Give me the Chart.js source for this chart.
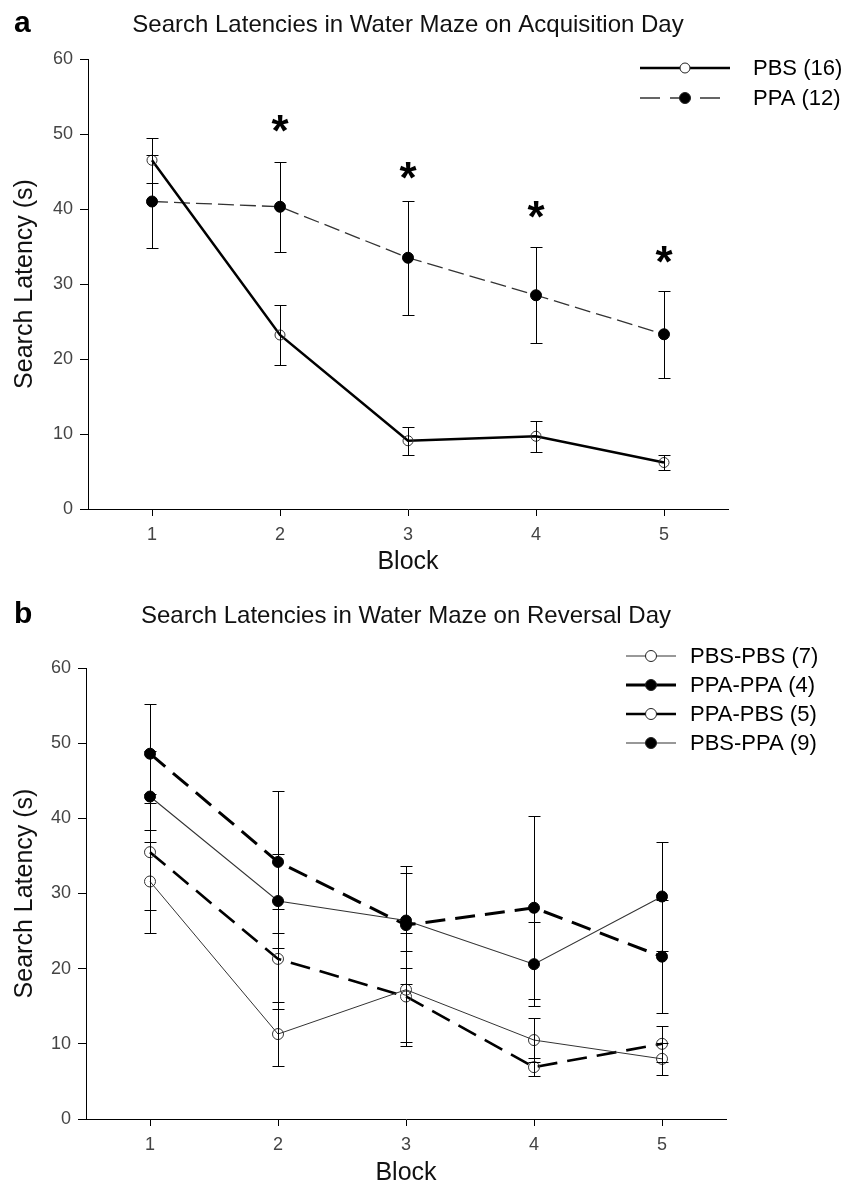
<!DOCTYPE html>
<html>
<head>
<meta charset="utf-8">
<script src="https://cdn.jsdelivr.net/npm/chart.js@4.4.1/dist/chart.umd.min.js"></script>
<style>
  html, body { margin: 0; padding: 0; background: #fff; }
  #wrap { position: relative; width: 856px; height: 1184px; }
  canvas { position: absolute; left: 0; }
</style>
</head>
<body>
<div id="wrap">
  <canvas id="chartA" width="856" height="590" style="top:0"></canvas>
  <canvas id="chartB" width="856" height="594" style="top:590px"></canvas>
</div>
<script>
// x categories (block numbers)
const blocks = ['1', '2', '3', '4', '5'];

// panel a: acquisition day, mean +/- SEM
const pbsMean = [46.5, 23.2, 9.1, 9.7, 6.2];
const pbsErr  = [3.0, 4.0, 1.9, 2.1, 1.0];
const ppaMean = [41.0, 40.3, 33.5, 28.5, 23.3];
const ppaErr  = [6.2, 6.0, 7.6, 6.4, 5.8];
const starVals = [null, 51.4, 45.2, 39.9, 33.9];

// panel b: reversal day
const pbsPbsMean = [31.6, 11.3, 17.2, 10.5, 8.0];
const pbsPbsErr  = [6.9, 4.2, 7.5, 2.9, 2.1];
const ppaPpaMean = [48.6, 34.2, 25.8, 28.1, 21.6];
const ppaPpaErr  = [6.6, 9.4, 7.9, 12.2, 7.5];
const ppaPbsMean = [35.5, 21.3, 16.3, 6.9, 10.0];
const ppaPbsErr  = [7.7, 6.6, 6.0, 1.2, 2.4];
const pbsPpaMean = [42.9, 29.0, 26.4, 20.6, 29.6];
const pbsPpaErr  = [6.1, 6.2, 6.3, 5.6, 7.3];

const FONT = '"Liberation Sans", Arial, Helvetica, sans-serif';

// error bars, stars, panel title, letter and legend
const decor = {
  id: 'decor',
  afterDatasetsDraw(chart, args, opts) {
    const { ctx, chartArea, scales: { x, y } } = chart;
    ctx.save();

    chart.data.datasets.forEach((ds, i) => {
      if (!ds.errors) return;
      const meta = chart.getDatasetMeta(i);
      ctx.strokeStyle = '#000';
      ctx.lineWidth = 1;
      ctx.setLineDash([]);
      meta.data.forEach((pt, j) => {
        const v = ds.data[j], e = ds.errors[j];
        if (v == null || e == null) return;
        const px = Math.round(pt.x) + 0.5;
        const top = Math.round(y.getPixelForValue(v + e)) + 0.5;
        const bot = Math.round(y.getPixelForValue(v - e)) + 0.5;
        ctx.beginPath();
        ctx.moveTo(px, top); ctx.lineTo(px, bot);
        ctx.moveTo(px - opts.cap, top); ctx.lineTo(px + opts.cap, top);
        ctx.moveTo(px - opts.cap, bot); ctx.lineTo(px + opts.cap, bot);
        ctx.stroke();
      });
    });

    if (opts.stars) {
      ctx.fillStyle = '#000';
      ctx.font = 'bold 44px ' + FONT;
      ctx.textAlign = 'center';
      ctx.textBaseline = 'alphabetic';
      const m = ctx.measureText('*');
      const shift = (m.actualBoundingBoxAscent - m.actualBoundingBoxDescent) / 2;
      opts.stars.forEach((v, j) => {
        if (v == null) return;
        ctx.fillText('*', x.getPixelForValue(j), y.getPixelForValue(v) + shift);
      });
    }

    // panel title and letter
    ctx.fillStyle = '#111';
    ctx.font = '24px ' + FONT;
    ctx.textAlign = 'center';
    ctx.fillText(opts.title, (chartArea.left + chartArea.right) / 2, opts.titleY);
    ctx.fillStyle = '#000';
    ctx.font = 'bold 30px ' + FONT;
    ctx.textAlign = 'left';
    ctx.fillText(opts.letter, 14, opts.titleY);

    // legend
    const lg = opts.legend;
    chart.data.datasets.forEach((ds, i) => {
      if (!ds.label) return;
      const ly = lg.y0 + i * lg.rowH;
      ctx.strokeStyle = ds.borderColor;
      ctx.lineWidth = ds.legendWidth || ds.borderWidth;
      ctx.setLineDash(ds.legendDash || []);
      ctx.beginPath();
      ctx.moveTo(lg.x0, ly); ctx.lineTo(lg.x1, ly);
      ctx.stroke();
      ctx.setLineDash([]);
      ctx.beginPath();
      ctx.arc((lg.x0 + lg.x1) / 2, ly, ds.pointRadius, 0, Math.PI * 2);
      ctx.fillStyle = ds.legendFill;
      ctx.fill();
      ctx.lineWidth = 1;
      ctx.strokeStyle = '#222';
      ctx.stroke();
      ctx.fillStyle = '#000';
      ctx.font = '22px ' + FONT;
      ctx.textAlign = 'left';
      ctx.textBaseline = 'middle';
      ctx.fillText(ds.label, lg.textX, ly + 1);
      ctx.textBaseline = 'alphabetic';
    });
    ctx.restore();
  }
};

function axes(yWidth, xHeight, xTitlePad, xTitleLH) {
  return {
    x: {
      type: 'category',
      offset: true,
      afterFit: s => { s.height = xHeight; },
      grid: { offset: false, drawOnChartArea: false, tickLength: 7, color: '#000' },
      border: { color: '#000', width: 1 },
      ticks: { padding: 8, color: '#444', font: { size: 18, family: FONT } },
      title: { display: true, text: 'Block', color: '#111',
               font: { size: 25, family: FONT, lineHeight: xTitleLH },
               padding: { top: 0, bottom: xTitlePad } }
    },
    y: {
      min: 0, max: 60,
      afterFit: s => { s.width = yWidth; },
      grid: { drawOnChartArea: false, tickLength: 8, color: '#000' },
      border: { color: '#000', width: 1 },
      ticks: { stepSize: 10, padding: 7, color: '#444', font: { size: 18, family: FONT } },
      title: { display: true, text: 'Search Latency (s)', color: '#111',
               font: { size: 25, family: FONT, lineHeight: 1.2 },
               padding: { top: 10, bottom: 0 } }
    }
  };
}

new Chart(document.getElementById('chartA'), {
  type: 'line',
  data: {
    labels: blocks,
    datasets: [
      { label: 'PBS (16)', data: pbsMean, errors: pbsErr,
        borderColor: '#000', borderWidth: 2.5, tension: 0,
        pointRadius: 5, pointBorderWidth: 1, pointBorderColor: '#333',
        pointBackgroundColor: 'rgba(255,255,255,0)', legendFill: '#fff' },
      { label: 'PPA (12)', data: ppaMean, errors: ppaErr,
        borderColor: '#333', borderWidth: 1.3, borderDash: [16, 6], tension: 0,
        legendDash: [20, 10],
        pointRadius: 5.5, pointBorderWidth: 1, pointBorderColor: '#000',
        pointBackgroundColor: '#000', legendFill: '#000' }
    ]
  },
  options: {
    responsive: false,
    animation: false,
    devicePixelRatio: 1,
    layout: { padding: { left: 0, right: 128, top: 59, bottom: 0 } },
    scales: axes(88, 81, 15, 1),
    plugins: {
      legend: { display: false },
      tooltip: { enabled: false },
      decor: {
        cap: 6, stars: starVals,
        title: 'Search Latencies in Water Maze on Acquisition Day', titleY: 32, letter: 'a',
        legend: { x0: 640, x1: 730, textX: 753, y0: 68, rowH: 30 }
      }
    }
  },
  plugins: [decor]
});

new Chart(document.getElementById('chartB'), {
  type: 'line',
  data: {
    labels: blocks,
    datasets: [
      { label: 'PBS-PBS (7)', data: pbsPbsMean, errors: pbsPbsErr,
        borderColor: '#333', borderWidth: 1, tension: 0,
        pointRadius: 5.5, pointBorderWidth: 1, pointBorderColor: '#333',
        pointBackgroundColor: 'rgba(255,255,255,0)', legendFill: '#fff' },
      { label: 'PPA-PPA (4)', data: ppaPpaMean, errors: ppaPpaErr,
        borderColor: '#000', borderWidth: 3, borderDash: [20, 10], tension: 0,
        pointRadius: 5.5, pointBorderWidth: 1, pointBorderColor: '#000',
        pointBackgroundColor: '#000', legendFill: '#000' },
      { label: 'PPA-PBS (5)', data: ppaPbsMean, errors: ppaPbsErr,
        borderColor: '#000', borderWidth: 2.6, borderDash: [20, 10], tension: 0,
        pointRadius: 5.5, pointBorderWidth: 1, pointBorderColor: '#333',
        pointBackgroundColor: 'rgba(255,255,255,0)', legendFill: '#fff' },
      { label: 'PBS-PPA (9)', data: pbsPpaMean, errors: pbsPpaErr,
        borderColor: '#333', borderWidth: 1.1, tension: 0,
        pointRadius: 5.5, pointBorderWidth: 1, pointBorderColor: '#000',
        pointBackgroundColor: '#000', legendFill: '#000' }
    ]
  },
  options: {
    responsive: false,
    animation: false,
    devicePixelRatio: 1,
    layout: { padding: { left: 0, right: 130, top: 78, bottom: 0 } },
    scales: axes(86, 65, 0, 0.9),
    plugins: {
      legend: { display: false },
      tooltip: { enabled: false },
      decor: {
        cap: 6,
        title: 'Search Latencies in Water Maze on Reversal Day', titleY: 33, letter: 'b',
        legend: { x0: 626, x1: 676, textX: 690, y0: 66, rowH: 29 }
      }
    }
  },
  plugins: [decor]
});
</script>
</body>
</html>
